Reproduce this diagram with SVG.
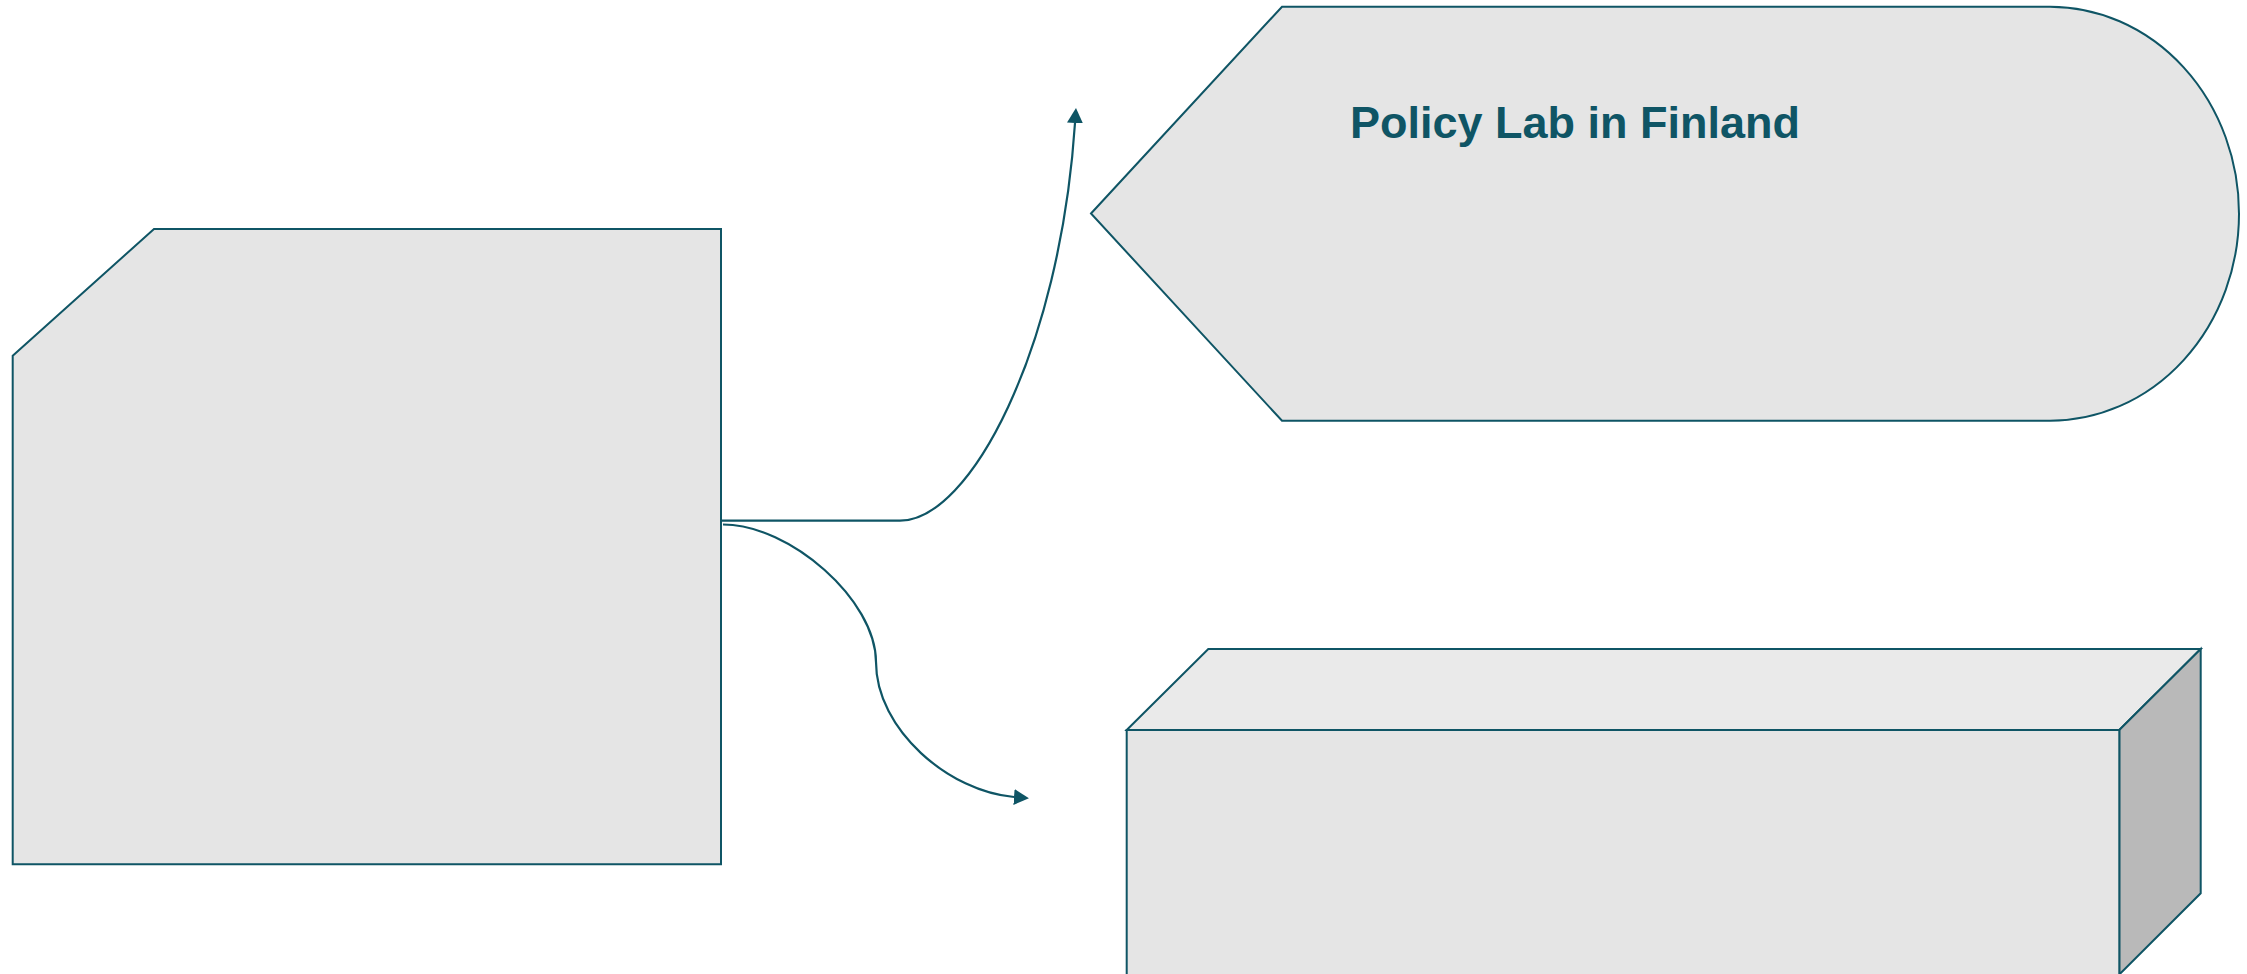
<svg xmlns="http://www.w3.org/2000/svg" width="2247" height="974" viewBox="0 0 2247 974">
<style>
.node{fill:#e5e5e5;stroke:#0f5565;stroke-width:2;stroke-linejoin:miter}
.top{fill:#eaeaea;stroke:#0f5565;stroke-width:2}
.side{fill:#b9b9b9;stroke:#0f5565;stroke-width:2}
.edge{fill:none;stroke:#0f5565;stroke-width:2.2}
.label{font-family:"Liberation Sans",Arial,sans-serif;font-weight:bold;font-size:45px;fill:#0f5565}
</style>
<defs>
<marker id="arrow" markerUnits="userSpaceOnUse" markerWidth="17" markerHeight="17" refX="0" refY="8" orient="auto">
<path d="M0,0 L15,8 L0,16 Z" fill="#0f5565"/>
</marker>
</defs>
<rect width="2247" height="974" fill="#ffffff"/>
<g id="node-left">
<path class="node" d="M12.7,355.7 L154,229 L721,229 L721,864.3 L12.7,864.3 Z"/>
</g>
<g id="node-policy-lab">
<path class="node" d="M1091,213.5 L1282,6.7 L2050,6.7 A189,207 0 0 1 2050,420.7 L1282,420.7 Z"/>
<text class="label" x="1350" y="137.7">Policy Lab in Finland</text>
</g>
<g id="node-cube">
<path class="top" d="M1126.7,730 L1208.3,649 L2200.7,649 L2119.3,730 Z"/>
<path class="side" d="M2119.3,730 L2200.7,649 L2200.7,893.3 L2119.3,974.5 Z"/>
<path class="node" d="M1126.7,730 L2119.3,730 L2119.3,976 L1126.7,976 Z"/>
</g>
<g id="connectors">
<path class="edge" marker-end="url(#arrow)" d="M721,520.7 L900,520.7 C970,520.7 1060,350 1075,123"/>
<path class="edge" marker-end="url(#arrow)" d="M723,524.5 C790,524.5 876,600 876,662 C876,730 950,792 1014,797"/>
</g>
</svg>
